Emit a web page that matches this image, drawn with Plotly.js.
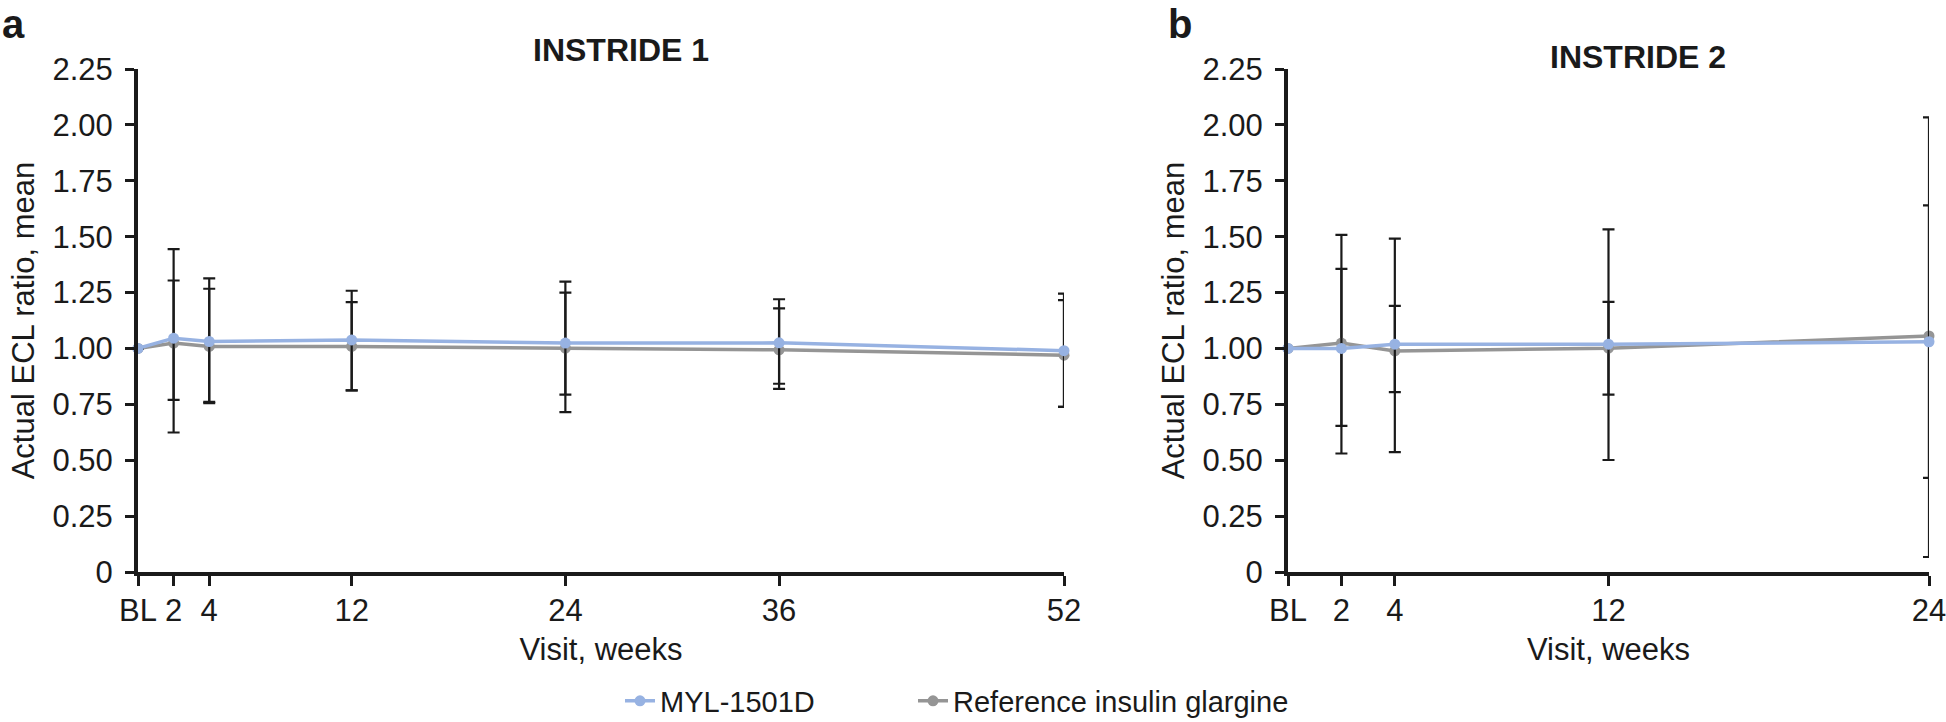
<!DOCTYPE html>
<html>
<head>
<meta charset="utf-8">
<script src="https://cdn.plot.ly/plotly-3.0.1.min.js"></script>
<style>
  html, body { margin: 0; padding: 0; background: #ffffff; }
  #chart { width: 1946px; height: 722px; }
</style>
</head>
<body>
<div id="chart"></div>
<script>
// ---- Data ----
const seriesNames = ["MYL-1501D", "Reference insulin glargine"];

// INSTRIDE 1 (panel a)
const weeks1 = [0, 2, 4, 12, 24, 36, 52];
const myl1Mean  = [1.00, 1.046, 1.031, 1.038, 1.024, 1.025, 0.990];
const myl1Upper = [1.00, 1.444, 1.313, 1.258, 1.250, 1.220, 1.245];
const myl1Lower = [1.00, 0.624, 0.755, 0.812, 0.793, 0.842, 0.739];
const ref1Mean  = [1.00, 1.024, 1.009, 1.009, 1.001, 0.994, 0.970];
const ref1Upper = [1.00, 1.304, 1.267, 1.207, 1.299, 1.179, 1.216];
const ref1Lower = [1.00, 0.770, 0.761, 0.812, 0.715, 0.819, 0.739];

// INSTRIDE 2 (panel b)
const weeks2 = [0, 2, 4, 12, 24];
const myl2Mean  = [1.00, 1.000, 1.019, 1.019, 1.030];
const myl2Upper = [1.00, 1.356, 1.491, 1.533, 1.640];
const myl2Lower = [1.00, 0.654, 0.536, 0.501, 0.421];
const ref2Mean  = [1.00, 1.024, 0.989, 1.001, 1.056];
const ref2Upper = [1.00, 1.508, 1.190, 1.208, 2.034];
const ref2Lower = [1.00, 0.530, 0.805, 0.793, 0.067];

// Tick labels
const xTickVals1 = [0, 2, 4, 12, 24, 36, 52];
const xTickText1 = ["BL", "2", "4", "12", "24", "36", "52"];
const xTickVals2 = [0, 2, 4, 12, 24];
const xTickText2 = ["BL", "2", "4", "12", "24"];
const yTickVals = [0, 0.25, 0.5, 0.75, 1.0, 1.25, 1.5, 1.75, 2.0, 2.25];
const yTickText = ["0", "0.25", "0.50", "0.75", "1.00", "1.25", "1.50", "1.75", "2.00", "2.25"];

const panelTitles = ["INSTRIDE 1", "INSTRIDE 2"];
const panelLetters = ["a", "b"];
const xTitle = "Visit, weeks";
const yTitle = "Actual ECL ratio, mean";

// ---- Styling ----
const BLUE = "#97b2e2";
const GRAY = "#959595";
const INK = "#1a1a1a";
const FONT = "Liberation Sans, Arial, Helvetica, sans-serif";

function diff(a, b) { return a.map((v, i) => Math.max(0, v - b[i])); }

function trace(x, mean, upper, lower, name, color, xa, ya, showlegend, legendId) {
  return {
    type: "scatter", mode: "lines+markers",
    x: x, y: mean, name: name, showlegend: showlegend, legend: legendId,
    xaxis: xa, yaxis: ya, cliponaxis: false,
    line: { color: color, width: 3.5 },
    marker: { color: color, size: 11 },
    error_y: {
      type: "data", symmetric: false,
      array: diff(upper, mean), arrayminus: diff(mean, lower),
      color: INK, thickness: 2.2, width: 6
    }
  };
}

const data = [
  trace(weeks1, ref1Mean, ref1Upper, ref1Lower, seriesNames[1], GRAY, "x", "y", false, "legend2"),
  trace(weeks1, myl1Mean, myl1Upper, myl1Lower, seriesNames[0], BLUE, "x", "y", true, "legend"),
  trace(weeks2, ref2Mean, ref2Upper, ref2Lower, seriesNames[1], GRAY, "x2", "y2", true, "legend2"),
  trace(weeks2, myl2Mean, myl2Upper, myl2Lower, seriesNames[0], BLUE, "x2", "y2", false, "legend")
];

const yDomain = [150 / 722, 653 / 722];

function xAxis(domain, range, vals, text, anchor) {
  return {
    domain: domain, range: range, anchor: anchor,
    showgrid: false, zeroline: false, showline: true,
    linecolor: INK, linewidth: 4,
    ticks: "outside", ticklen: 10, tickwidth: 3, tickcolor: INK,
    tickvals: vals, ticktext: text,
    tickfont: { family: FONT, size: 31, color: INK },
    ticklabeloverflow: "allow",
    ticklabelstandoff: -2,
    title: { text: xTitle, font: { family: FONT, size: 31, color: INK }, standoff: 12 },
    automargin: false, fixedrange: true
  };
}
function yAxis(anchor) {
  return {
    domain: yDomain, range: [0, 2.25], anchor: anchor,
    showgrid: false, zeroline: false, showline: true,
    linecolor: INK, linewidth: 4,
    ticks: "outside", ticklen: 9, tickwidth: 3, tickcolor: INK,
    tickvals: yTickVals, ticktext: yTickText,
    tickfont: { family: FONT, size: 31, color: INK },
    ticklabelstandoff: 6,
    title: { text: yTitle, font: { family: FONT, size: 31, color: INK }, standoff: 10 },
    automargin: false, fixedrange: true
  };
}

function legendBox(xpx) {
  return {
    orientation: "h", x: xpx / 1946, xanchor: "left", y: 21 / 722, yanchor: "middle",
    font: { family: FONT, size: 29, color: INK },
    bgcolor: "rgba(0,0,0,0)"
  };
}

const layout = {
  width: 1946, height: 722,
  margin: { l: 0, r: 0, t: 0, b: 0, pad: 0, autoexpand: false },
  paper_bgcolor: "#ffffff", plot_bgcolor: "#ffffff",
  font: { family: FONT, color: INK },
  showlegend: true,
  xaxis: xAxis([138 / 1946, 1064 / 1946], [0, 52], xTickVals1, xTickText1, "y"),
  yaxis: yAxis("x"),
  xaxis2: xAxis([1288 / 1946, 1929 / 1946], [0, 24], xTickVals2, xTickText2, "y2"),
  yaxis2: yAxis("x2"),
  legend: legendBox(620),
  legend2: legendBox(913),
  annotations: [
    { text: "<b>" + panelLetters[0] + "</b>", xref: "paper", yref: "paper", x: 0, y: 1, xanchor: "left", yanchor: "top",
      showarrow: false, font: { family: FONT, size: 40, color: INK } },
    { text: "<b>" + panelLetters[1] + "</b>", xref: "paper", yref: "paper", x: 1166 / 1946, y: 1, xanchor: "left", yanchor: "top",
      showarrow: false, font: { family: FONT, size: 40, color: INK } },
    { text: "<b>" + panelTitles[0] + "</b>", xref: "paper", yref: "paper", x: 621 / 1946, y: 1 - 50 / 722, xanchor: "center", yanchor: "middle",
      showarrow: false, font: { family: FONT, size: 32, color: INK } },
    { text: "<b>" + panelTitles[1] + "</b>", xref: "paper", yref: "paper", x: 1638 / 1946, y: 1 - 57 / 722, xanchor: "center", yanchor: "middle",
      showarrow: false, font: { family: FONT, size: 32, color: INK } }
  ]
};

Plotly.newPlot("chart", data, layout, { displayModeBar: false, staticPlot: true });
</script>
</body>
</html>
